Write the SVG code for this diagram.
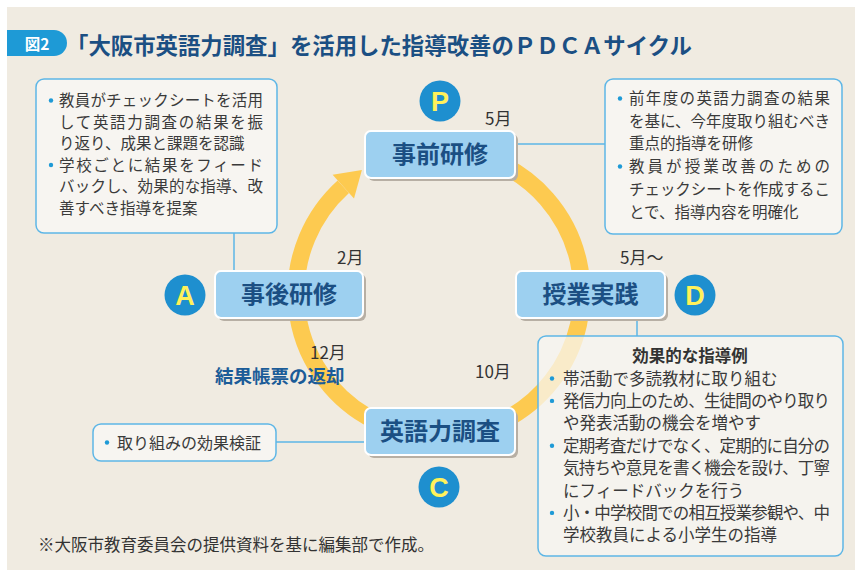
<svg xmlns="http://www.w3.org/2000/svg" width="862" height="570" viewBox="0 0 862 570">
<style>
text{font-family:"Noto Sans CJK JP","Noto Sans",sans-serif}
.nbox{fill:#9DD0F0;stroke:#fff;stroke-width:2}
.shadow{fill:#B7AFA4}
.ntext{font-weight:700;font-size:24px;fill:#1B4F83;text-anchor:middle}
.box{fill:#F7F5F1;stroke:#5DB6E6;stroke-width:1.5}
.body{font-size:15.5px;fill:#3A3A3A}
.bodyD{font-size:16.5px;fill:#3A3A3A}
.bullet{fill:#1E9AD6}
.month{font-size:17px;fill:#333}
.badge{fill:#1E8FCF}
.letter{fill:#FFF15A;font-family:"Liberation Sans",Arial,sans-serif;font-weight:700;font-size:27px;text-anchor:middle}
.link{stroke:#5DB6E6;stroke-width:1.5;fill:none}
.ring{stroke:#FDCA50;stroke-width:17;fill:none}
</style>
<rect x="0" y="0" width="862" height="570" fill="#fff"/>
<rect x="7" y="7" width="848" height="563" fill="#F0EBE1"/>

<g id="title">
<path d="M7 30 H54 A13 13 0 0 1 54 56 H7 Z" fill="#1E9AD6"/>
<text x="37" y="49.5" fill="#fff" font-weight="700" font-size="15.5" text-anchor="middle">図2</text>
<text x="66" y="54" fill="#1B4F83" font-weight="700" font-size="22.4">「大阪市英語力調査」を活用した指導改善のＰＤＣＡサイクル</text>
</g>

<g id="connectors">
<path class="ring" d="M426.5 150.5 A143 143 0 1 1 343.3 186.7"/>
<polygon points="361.9,170 332.6,174.8 354,198.6" fill="#FDCA50"/>
<line class="link" x1="234" y1="233" x2="234" y2="271"/>
<line class="link" x1="515" y1="144" x2="605" y2="144"/>
<line class="link" x1="637" y1="318" x2="637" y2="336"/>
<line class="link" x1="276" y1="442" x2="365" y2="442"/>
</g>

<g id="node-P">
<rect class="shadow" x="368" y="134" width="150" height="47" rx="6"/>
<rect class="nbox" x="365" y="131" width="150" height="47" rx="6"/>
<text class="ntext" x="440" y="163">事前研修</text>
</g>
<g id="node-A">
<rect class="shadow" x="218" y="274" width="148" height="47" rx="6"/>
<rect class="nbox" x="215" y="271" width="148" height="47" rx="6"/>
<text class="ntext" x="289" y="303">事後研修</text>
</g>
<g id="node-D">
<rect class="shadow" x="519" y="274" width="149" height="47" rx="6"/>
<rect class="nbox" x="516" y="271" width="149" height="47" rx="6"/>
<text class="ntext" x="590.5" y="303">授業実践</text>
</g>
<g id="node-C">
<rect class="shadow" x="368" y="411" width="150" height="47" rx="6"/>
<rect class="nbox" x="365" y="408" width="150" height="47" rx="6"/>
<text class="ntext" x="440" y="440">英語力調査</text>
</g>

<g id="badge-P"><circle class="badge" cx="440" cy="101" r="20.5"/><text class="letter" x="440" y="110.5">P</text></g>
<g id="badge-A"><circle class="badge" cx="185" cy="295" r="20.5"/><text class="letter" x="185" y="304.5">A</text></g>
<g id="badge-D"><circle class="badge" cx="695" cy="295" r="20.5"/><text class="letter" x="695" y="304.5">D</text></g>
<g id="badge-C"><circle class="badge" cx="439" cy="487" r="20.5"/><text class="letter" x="439" y="496.5">C</text></g>

<g id="months">
<text class="month" x="485" y="125">5月</text>
<text class="month" x="337" y="263.5">2月</text>
<text class="month" x="620" y="263.5">5月～</text>
<text class="month" x="310" y="358.5">12月</text>
<text class="month" x="475" y="377.5">10月</text>
<text x="215" y="383" font-size="18.5" font-weight="700" fill="#1B5C98">結果帳票の返却</text>
</g>

<g id="detail-A">
<rect class="box" x="36" y="79" width="241" height="154" rx="8"/>
<circle class="bullet" cx="51" cy="100.5" r="2.2"/>
<circle class="bullet" cx="51" cy="165" r="2.2"/>
<text class="body" x="59" y="106" textLength="204">教員がチェックシートを活用</text>
<text class="body" x="59" y="127.5" textLength="204">して英語力調査の結果を振</text>
<text class="body" x="59" y="149">り返り、成果と課題を認識</text>
<text class="body" x="59" y="170.5" textLength="204">学校ごとに結果をフィード</text>
<text class="body" x="59" y="192" textLength="204">バックし、効果的な指導、改</text>
<text class="body" x="59" y="213.5">善すべき指導を提案</text>
</g>

<g id="detail-P">
<rect class="box" x="605" y="79" width="237" height="155" rx="8"/>
<circle class="bullet" cx="620" cy="98.5" r="2.2"/>
<circle class="bullet" cx="620" cy="166.5" r="2.2"/>
<text class="body" x="629" y="104" textLength="201">前年度の英語力調査の結果</text>
<text class="body" x="629" y="126.7" textLength="201">を基に、今年度取り組むべき</text>
<text class="body" x="629" y="149.4">重点的指導を研修</text>
<text class="body" x="629" y="172.1" textLength="201">教員が授業改善のための</text>
<text class="body" x="629" y="194.8" textLength="201">チェックシートを作成するこ</text>
<text class="body" x="629" y="217.5">とで、指導内容を明確化</text>
</g>

<g id="detail-D">
<rect class="box" x="538" y="336" width="305" height="220" rx="8" fill-opacity="0.75"/>
<text x="690" y="361.5" font-size="16.5" font-weight="700" fill="#333" text-anchor="middle">効果的な指導例</text>
<circle class="bullet" cx="552" cy="378.5" r="2.2"/>
<circle class="bullet" cx="552" cy="400.9" r="2.2"/>
<circle class="bullet" cx="552" cy="445.7" r="2.2"/>
<circle class="bullet" cx="552" cy="512.9" r="2.2"/>
<text class="bodyD" x="563" y="384.5">帯活動で多読教材に取り組む</text>
<text class="bodyD" x="563" y="406.9" textLength="267">発信力向上のため、生徒間のやり取り</text>
<text class="bodyD" x="563" y="429.3">や発表活動の機会を増やす</text>
<text class="bodyD" x="563" y="451.7" textLength="267">定期考査だけでなく、定期的に自分の</text>
<text class="bodyD" x="563" y="474.1" textLength="267">気持ちや意見を書く機会を設け、丁寧</text>
<text class="bodyD" x="563" y="496.5">にフィードバックを行う</text>
<text class="bodyD" x="563" y="518.9" textLength="267">小・中学校間での相互授業参観や、中</text>
<text class="bodyD" x="563" y="541.3">学校教員による小学生の指導</text>
</g>

<g id="detail-C">
<rect class="box" x="93" y="424" width="183" height="37" rx="8"/>
<circle class="bullet" cx="107" cy="442.5" r="2.2"/>
<text x="117" y="448.5" font-size="16" fill="#3A3A3A">取り組みの効果検証</text>
</g>

<text id="footnote" x="38" y="551" font-size="16.5" fill="#333">※大阪市教育委員会の提供資料を基に編集部で作成。</text>
</svg>
